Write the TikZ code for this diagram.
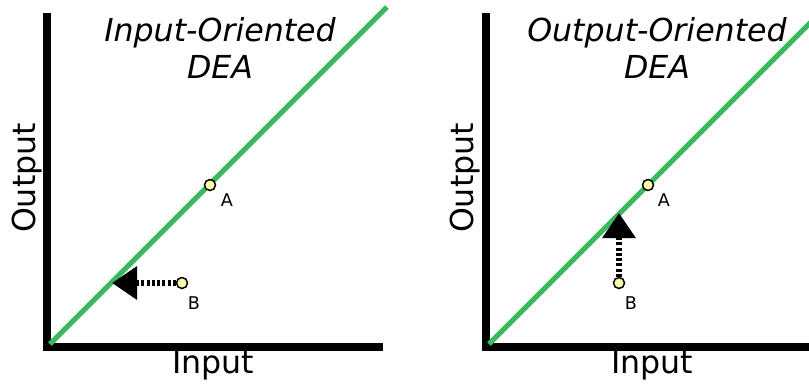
\documentclass[tikz,border=0pt]{standalone}
\usepackage{fontspec}
\setmainfont{DejaVu Sans}
\usepackage{tikz}
\usetikzlibrary{arrows.meta}

\definecolor{frontier}{RGB}{60,185,95}
\definecolor{dmu}{RGB}{250,250,170}

\begin{document}
\begin{tikzpicture}[x=0.2mm,y=-0.2mm,
every node/.style={font=\fontsize{18}{21}\selectfont},
axis/.style={line width=1.6mm}, front/.style={frontier,line width=1mm},
unit/.style={circle,draw,fill=dmu,inner sep=0pt,minimum size=2.2mm,line width=0.3mm},
tag/.style={font=\fontsize{10}{11}\selectfont},
proj/.style={line width=1.3mm,dash pattern=on 0.6mm off 0.45mm,-{Triangle[length=5mm,width=6.4mm]}},
title/.style={align=center,font=\fontsize{18}{21}\selectfont\itshape}]
\useasboundingbox (0,0) rectangle (809,384);

% input oriented
\draw[axis] (47,13) |- (383,347);
\draw[front] (50,344) -- (387,7);
\node[title] (titleIn) at (220,48) {Input-Oriented\\DEA};
\node[rotate=90] (outIn) at (27,178) {Output};
\node (inIn) at (213,365) {Input};
\node[unit] (aIn) at (210,185) {};
\node[tag] (aInTag) at (227,200) {A};
\node[unit] (bIn) at (182,283) {};
\node[tag] (bInTag) at (194,303) {B};
\coordinate (bInProj) at (112,283);
\draw[proj] (bIn) -- (bInProj);

% output oriented
\draw[axis] (486,13) |- (820,347);
\draw[front] (489,344) -- (830,3);
\node[title] (titleOut) at (657,48) {Output-Oriented\\DEA};
\node[rotate=90] (outOut) at (465,178) {Output};
\node (inOut) at (652,365) {Input};
\node[unit] (aOut) at (648,185) {};
\node[tag] (aOutTag) at (664,200) {A};
\node[unit] (bOut) at (619,283) {};
\node[tag] (bOutTag) at (631,303) {B};
\coordinate (bOutProj) at (619,213);
\draw[proj] (bOut) -- (bOutProj);
\end{tikzpicture}
\end{document}
